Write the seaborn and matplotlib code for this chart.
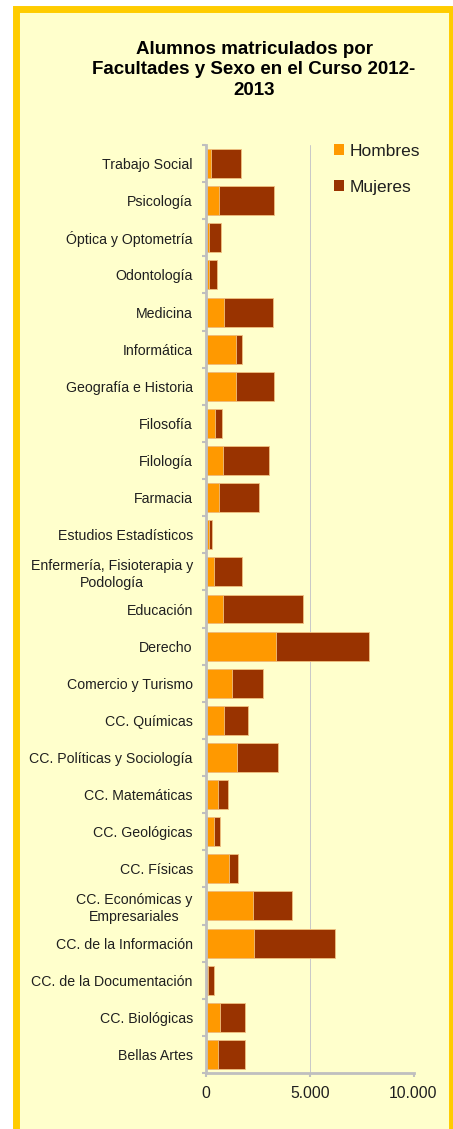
import numpy as np
import pandas as pd
import matplotlib.pyplot as plt
import seaborn as sns
from matplotlib.patches import Rectangle, Patch

# Data (students enrolled per faculty, 2012-2013)
facultades = [
    "Trabajo Social", "Psicología", "Óptica y Optometría", "Odontología",
    "Medicina", "Informática", "Geografía e Historia", "Filosofía",
    "Filología", "Farmacia", "Estudios Estadísticos",
    "Enfermería, Fisioterapia y\nPodología", "Educación", "Derecho",
    "Comercio y Turismo", "CC. Químicas", "CC. Políticas y Sociología",
    "CC. Matemáticas", "CC. Geológicas", "CC. Físicas",
    "CC. Económicas y\nEmpresariales", "CC. de la Información",
    "CC. de la Documentación", "CC. Biológicas", "Bellas Artes",
]
hombres = [260, 610, 160, 130, 870, 1450, 1450, 420, 800, 640, 140,
           390, 840, 3360, 1270, 870, 1500, 560, 370, 1110,
           2270, 2320, 100, 660, 560]
mujeres = [1430, 2690, 580, 400, 2350, 300, 1810, 340, 2220, 1920, 150,
           1360, 3820, 4500, 1500, 1140, 1960, 500, 290, 420,
           1860, 3890, 290, 1220, 1300]
x_ticks = [0, 5000, 10000]
x_ticklabels = ["0", "5.000", "10.000"]

df = pd.DataFrame({"facultad": facultades, "Hombres": hombres, "Mujeres": mujeres})
df["total"] = df["Hombres"] + df["Mujeres"]

COL_H = "#FF9900"
COL_M = "#993300"
BG = "#FFFFCC"
BORDER = "#FFCC00"
GRID = "#BFBFBF"

sns.set_theme(style="white")
plt.rcParams["font.family"] = ["Liberation Sans", "DejaVu Sans"]

W, H = 453, 1129
fig = plt.figure(figsize=(W / 100, H / 100), dpi=100, facecolor="white")

# yellow panel with gold border (bottom edge runs off the image)
panel = Rectangle((15.5 / W, -0.05), (451.5 - 15.5) / W, 1.05 - 9 / H,
                  transform=fig.transFigure, facecolor=BG,
                  edgecolor=BORDER, linewidth=5, zorder=-10)
fig.patches.append(panel)

ax = fig.add_axes([206 / W, 1 - 1073 / H, (413.5 - 206) / W, (1073 - 145) / H])
ax.set_facecolor("none")
ax.set_zorder(1)

# stacked bars: total (mujeres colour) underneath, hombres on top
sns.barplot(data=df, x="total", y="facultad", orient="h", color=COL_M,
            width=0.78, edgecolor="#F0C080", linewidth=0.6, saturation=1, ax=ax)
sns.barplot(data=df, x="Hombres", y="facultad", orient="h", color=COL_H,
            width=0.78, edgecolor="#F0C080", linewidth=0.6, saturation=1, ax=ax)

ax.set_xlim(0, 10000)
ax.set_ylim(len(facultades) - 0.5, -0.5)
ax.set_xlabel("")
ax.set_ylabel("")

ax.set_xticks(x_ticks)
ax.set_xticklabels(x_ticklabels, fontsize=11.3, color="#1F1F1F")
ax.grid(axis="x", color="#C8C8C8", linewidth=0.7)
ax.set_axisbelow(True)

for lbl in ax.get_yticklabels():
    lbl.set_multialignment("center")
    lbl.set_fontsize(10.2)
    lbl.set_color("#1F1F1F")

ax.set_yticks(np.arange(-0.5, len(facultades), 1), minor=True)
ax.tick_params(axis="y", which="major", length=0, pad=9.5)
ax.tick_params(axis="y", which="minor", left=True, length=3, width=1.5,
               color=GRID, direction="out")
ax.tick_params(axis="x", which="major", bottom=True, length=3, width=1.5,
               color=GRID, direction="out", pad=6)

for side in ["top", "right"]:
    ax.spines[side].set_visible(False)
for side in ["left", "bottom"]:
    ax.spines[side].set_color(GRID)
    ax.spines[side].set_linewidth(2)

handles = [Patch(facecolor=COL_H, edgecolor="none"),
           Patch(facecolor=COL_M, edgecolor="none")]
leg = ax.legend(handles, ["Hombres", "Mujeres"], loc="upper left",
                bbox_to_anchor=(326 / W, 1 - 136 / H),
                bbox_transform=fig.transFigure, borderaxespad=0,
                fontsize=12.5, frameon=True, facecolor=BG, edgecolor="none",
                framealpha=1, handlelength=0.6, handleheight=0.6,
                handletextpad=0.3, labelspacing=1.2, borderpad=0.45)
for t in leg.get_texts():
    t.set_color("#1F1F1F")

fig.text(254 / W, 1 - 70 / H,
         "Alumnos matriculados por\nFacultades y Sexo en el Curso 2012-\n2013",
         ha="center", va="center", multialignment="center",
         fontsize=13.5, fontweight="bold", color="black", linespacing=1.3)

fig.savefig("out.png", dpi=100, facecolor=fig.get_facecolor())
